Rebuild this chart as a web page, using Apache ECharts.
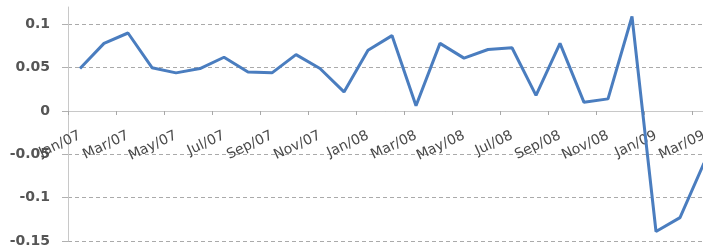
<!DOCTYPE html>
<html>
<head>
<meta charset="utf-8">
<script src="https://cdn.jsdelivr.net/npm/echarts@6/dist/echarts.min.js"></script>
<style>
  html, body { margin: 0; padding: 0; background: #fff; }
  #main { width: 703px; height: 248px; }
</style>
</head>
<body>
<div id="main"></div>
<script>
// 月份（x轴类别）
var months = ['Jan/07', 'Feb/07', 'Mar/07', 'Apr/07', 'May/07', 'Jun/07', 'Jul/07', 'Aug/07',
    'Sep/07', 'Oct/07', 'Nov/07', 'Dec/07', 'Jan/08', 'Feb/08', 'Mar/08', 'Apr/08',
    'May/08', 'Jun/08', 'Jul/08', 'Aug/08', 'Sep/08', 'Oct/08', 'Nov/08', 'Dec/08',
    'Jan/09', 'Feb/09', 'Mar/09'];

// 每月数值
var values = [0.049, 0.078, 0.090, 0.050, 0.044, 0.049, 0.062, 0.045,
    0.044, 0.065, 0.049, 0.022, 0.070, 0.087, 0.006, 0.078,
    0.061, 0.071, 0.073, 0.018, 0.078, 0.010, 0.014, 0.109,
    -0.139, -0.123, -0.060];

// y轴刻度
var yTicks = [-0.15, -0.1, -0.05, 0, 0.05, 0.1];
var yMin = -0.15, yMax = 0.12;

var myChart = echarts.init(document.getElementById('main'));

var option = {
    animation: false,
    grid: {
        left: 68,
        right: -13,   // 图被截掉了右边一部分
        top: 7,
        bottom: 7,
        outerBoundsMode: 'none'
    },
    xAxis: {
        type: 'category',
        data: months,
        boundaryGap: true,
        offset: -130, // 把x轴放到0的位置
        axisLine: { onZero: false, lineStyle: { color: '#c8c8c8', width: 1 } },
        axisTick: { show: true, interval: 1, length: 4, lineStyle: { color: '#a8a8a8' } },
        axisLabel: {
            interval: 1,
            rotate: 25,
            margin: 24,
            fontFamily: 'DejaVu Sans',
            fontSize: 14,
            color: '#4a4a4a'
        },
        splitLine: { show: false }
    },
    yAxis: {
        type: 'value',
        min: yMin,
        max: yMax,
        axisLine: { show: true, lineStyle: { color: '#c8c8c8', width: 1 } },
        axisTick: { show: true, length: 6, customValues: yTicks, lineStyle: { color: '#b0b0b0' } },
        axisLabel: {
            margin: 18,
            customValues: yTicks,
            fontFamily: 'DejaVu Sans',
            fontWeight: 'bold',
            fontSize: 14,
            color: '#555',
            formatter: function (v) {
                return String(Math.round(v * 100) / 100);
            }
        },
        splitLine: {
            show: true,
            lineStyle: { color: '#aaa', type: [4, 3], width: 1 }
        }
    },
    series: [{
        type: 'line',
        data: values,
        symbol: 'none',
        lineStyle: { color: '#4a7dbf', width: 3 },
        clip: false
    }]
};

myChart.setOption(option);
</script>
</body>
</html>
